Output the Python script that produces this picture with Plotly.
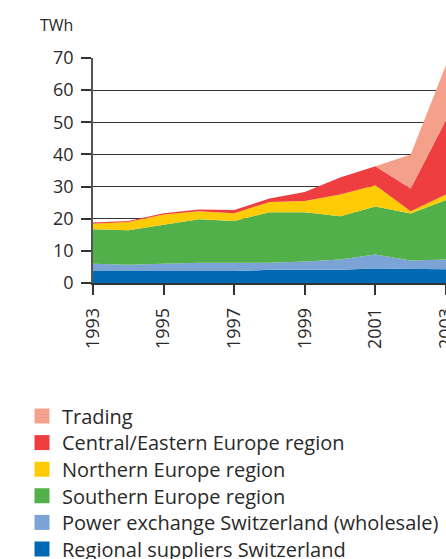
import plotly.graph_objects as go

years = [1993, 1994, 1995, 1996, 1997, 1998, 1999, 2000, 2001, 2002, 2003]
regional = [3.7, 3.7, 3.7, 3.7, 3.7, 4.1, 4.1, 4.1, 4.5, 4.4, 4.3]
power_exchange = [2.3, 2.0, 2.3, 2.6, 2.6, 2.2, 2.6, 3.2, 4.4, 2.6, 3.0]
southern = [10.7, 10.7, 12.1, 13.5, 13.0, 15.7, 15.3, 13.5, 14.9, 14.6, 18.5]
northern = [1.7, 2.6, 3.2, 2.5, 2.4, 3.2, 3.5, 6.7, 6.6, 0.7, 1.7]
central = [0.4, 0.3, 0.4, 0.6, 1.0, 1.1, 2.8, 5.3, 5.9, 7.1, 23.2]
trading = [0, 0, 0, 0, 0, 0, 0, 0, 0, 10.6, 17.1]

series = [
    ("Regional suppliers Switzerland", regional, "#0069B4"),
    ("Power exchange Switzerland (wholesale)", power_exchange, "#7CA3D6"),
    ("Southern Europe region", southern, "#52B04A"),
    ("Northern Europe region", northern, "#FFCB05"),
    ("Central/Eastern Europe region", central, "#EE3E40"),
    ("Trading", trading, "#F5A08B"),
]

font_family = "Open Sans, Noto Sans, DejaVu Sans, sans-serif"
text_color = "#2a2a2a"
W, H = 446, 559

fig = go.Figure()
for name, vals, color in series:
    fig.add_trace(go.Scatter(
        x=years, y=vals, name=name, stackgroup="one", mode="lines",
        line=dict(width=0, color=color), fillcolor=color,
        showlegend=False, hoverinfo="skip",
    ))

# one small legend per entry (top to bottom: Trading ... Regional suppliers)
legend_layouts = {}
n = len(series)
for i, (name, vals, color) in enumerate(series):
    row = n - 1 - i  # 0 = top row
    key = "legend" if row == 0 else f"legend{row + 1}"
    fig.add_trace(go.Scatter(
        x=[None], y=[None], name=name, mode="markers",
        marker=dict(symbol="square", size=15, color=color),
        showlegend=True, legend=key,
    ))
    top_px = 396.5 + row * 26.6
    legend_layouts[key] = dict(
        xref="container", yref="container",
        x=22 / W, y=1 - top_px / H, xanchor="left", yanchor="top",
        font=dict(size=20, color=text_color, family=font_family),
        itemwidth=30, bgcolor="rgba(0,0,0,0)",
    )

fig.update_layout(
    width=W, height=H,
    margin=dict(l=93, r=0, t=58, b=276, autoexpand=False),
    paper_bgcolor="white", plot_bgcolor="white",
    font=dict(family=font_family, size=18, color=text_color),
    showlegend=True,
    xaxis=dict(
        range=[1993, 2003], tickmode="array",
        tickvals=[1993, 1995, 1997, 1999, 2001, 2003],
        ticktext=["1993", "1995", "1997", "1999", "2001", "2003"],
        tickangle=-90, ticks="outside", ticklen=10, tickwidth=2, tickcolor="#333",
        ticklabelstandoff=6, ticklabeloverflow="allow",
        showline=True, linecolor="#333", linewidth=1.5,
        showgrid=False, zeroline=False,
        tickfont=dict(size=18, color=text_color),
    ),
    yaxis=dict(
        range=[0, 70], tickmode="array", tickvals=[0, 10, 20, 30, 40, 50, 60, 70],
        ticks="outside", ticklen=10, tickwidth=2, tickcolor="#333",
        ticklabelstandoff=4,
        showline=True, linecolor="#555", linewidth=1.5,
        showgrid=True, gridcolor="#333", gridwidth=1,
        zeroline=False,
        tickfont=dict(size=18, color=text_color),
    ),
    annotations=[dict(
        text="TWh", xref="paper", yref="paper", x=-55 / 353, y=1 + 33 / 225,
        xanchor="left", yanchor="middle", showarrow=False,
        font=dict(size=16, color=text_color),
    )],
    **legend_layouts,
)

fig.write_html(
    "out.html",
    config={"displayModeBar": False},
    post_script="document.body.style.margin='0';document.body.style.overflow='hidden';",
)
